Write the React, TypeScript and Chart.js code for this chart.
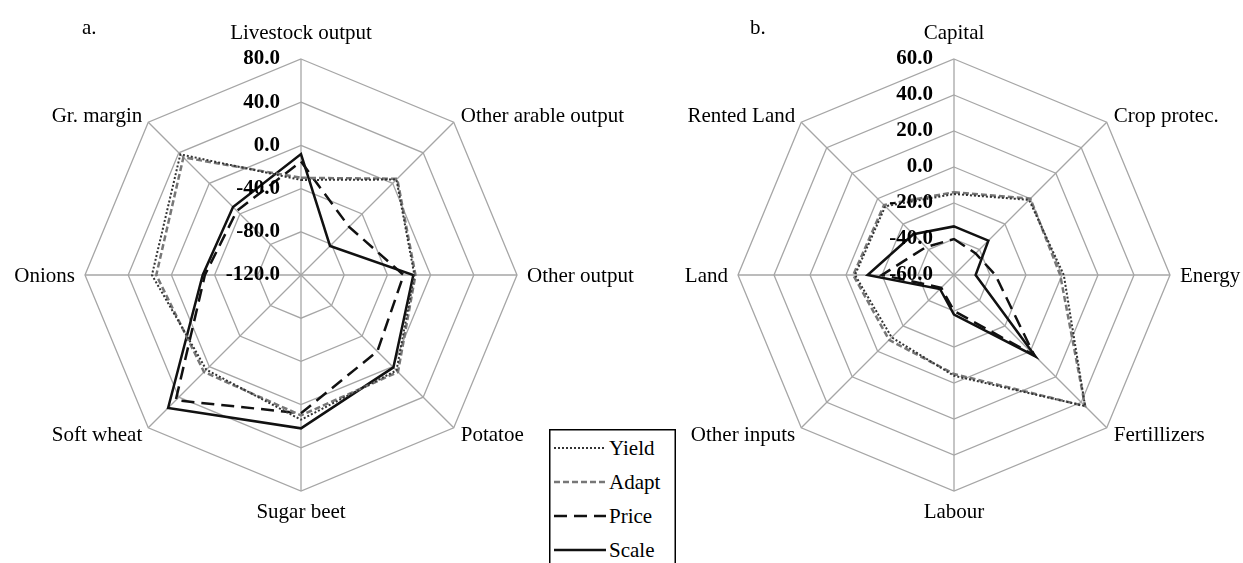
import React, { useEffect, useRef } from 'react';
import { Chart, registerables } from 'chart.js';

Chart.register(...registerables);

// ---------- data ----------
const SERIES_NAMES = ['Yield', 'Adapt', 'Price', 'Scale'];

const CATEGORIES_A = ['Livestock output', 'Other arable output', 'Other output', 'Potatoe', 'Sugar beet', 'Soft wheat', 'Onions', 'Gr. margin'];
const YIELD_A = [-32, 5, -15, 5, 14, 4, 18, 38];
const ADAPT_A = [-30, 6, -14, 7, 10, 7, 14, 34];
const PRICE_A = [-15, -57, -25, -20, 8, 44, -31, -36];
const SCALE_A = [-8, -82, -16, 1, 22, 54, -29, -31];
const TICKS_A = [-120, -80, -40, 0, 40, 80];

const CATEGORIES_B = ['Capital', 'Crop protec.', 'Energy', 'Fertillizers', 'Labour', 'Other inputs', 'Land', 'Rented Land'];
const YIELD_B = [-15, -1, 1, 43, -4, -11, -5, -6];
const ADAPT_B = [-14, 0, -1, 43, -5, -9, -4, -5];
const PRICE_B = [-40, -43, -37, 3, -40, -50, -20, -38];
const SCALE_B = [-33, -33, -48, 4, -38, -49, -12, -28];
const TICKS_B = [-60, -40, -20, 0, 20, 40, 60];

// ---------- styles ----------
const FONT = '"Liberation Serif", "Times New Roman", serif';
const GRID = '#a6a6a6';
const LINE_STYLES = [
  { color: '#333333', width: 2, dash: [2, 2] },
  { color: '#777777', width: 2.5, dash: [6, 3] },
  { color: '#111111', width: 2.5, dash: [13, 7] },
  { color: '#111111', width: 2.5, dash: [] as number[] },
];

const radarText = {
  id: 'radarText',
  afterDatasetsDraw(chart: any) {
    const s: any = chart.scales.r;
    const ctx: CanvasRenderingContext2D = chart.ctx;
    ctx.save();
    ctx.fillStyle = '#000';
    ctx.font = `bold 21px ${FONT}`;
    ctx.textAlign = 'right';
    ctx.textBaseline = 'middle';
    for (const t of s.ticks) {
      const d = s.getDistanceFromCenterForValue(t.value);
      ctx.fillText(Number(t.value).toFixed(1), s.xCenter - 21, s.yCenter - d);
    }
    ctx.font = `21px ${FONT}`;
    ctx.textBaseline = 'alphabetic';
    const labels = chart.data.labels as string[];
    labels.forEach((lab, i) => {
      const p = s.getPointPosition(i, s.drawingArea);
      const deg = Math.round((i * 360) / labels.length) % 360;
      let x = p.x;
      let y = p.y;
      let align: CanvasTextAlign = 'center';
      if (deg === 0) { y -= 20; }
      else if (deg < 90) { align = 'left'; x += 7; }
      else if (deg === 90) { align = 'left'; x += 10; y += 7; }
      else if (deg < 180) { align = 'left'; x += 7; y += 13; }
      else if (deg === 180) { y += 27; }
      else if (deg < 270) { align = 'right'; x -= 6; y += 13; }
      else if (deg === 270) { align = 'right'; x -= 10; y += 7; }
      else { align = 'right'; x -= 6; }
      ctx.textAlign = align;
      ctx.fillText(lab, x, y);
    });
    ctx.restore();
  },
};

type PanelProps = {
  labels: string[];
  series: number[][];
  ticks: number[];
  left: number;
  width: number;
  pad: { left: number; right: number; top: number; bottom: number };
};

function RadarPanel({ labels, series, ticks, left, width, pad }: PanelProps) {
  const ref = useRef<HTMLCanvasElement>(null);
  useEffect(() => {
    if (!ref.current) return;
    const chart = new Chart(ref.current, {
      type: 'radar',
      data: {
        labels,
        datasets: series.map((vals, i) => ({
          label: SERIES_NAMES[i],
          data: vals,
          borderColor: LINE_STYLES[i].color,
          borderWidth: LINE_STYLES[i].width,
          borderDash: LINE_STYLES[i].dash,
          backgroundColor: 'transparent',
          fill: false,
          pointRadius: 0,
          tension: 0,
        })),
      },
      options: {
        animation: false,
        responsive: false,
        maintainAspectRatio: false,
        layout: { padding: pad },
        plugins: { legend: { display: false }, tooltip: { enabled: false } },
        scales: {
          r: {
            min: ticks[0],
            max: ticks[ticks.length - 1],
            afterBuildTicks: (sc: any) => {
              sc.ticks = ticks.map((v) => ({ value: v }));
            },
            ticks: { display: false },
            pointLabels: { display: false },
            grid: { color: GRID, lineWidth: 1.3 },
            angleLines: { color: GRID, lineWidth: 1.3 },
          },
        },
      } as any,
      plugins: [radarText],
    });
    return () => chart.destroy();
  }, []);
  return (
    <canvas
      ref={ref}
      width={width}
      height={563}
      style={{ position: 'absolute', left, top: 0 }}
    />
  );
}

function Legend() {
  const rows = SERIES_NAMES.map((name, i) => {
    const cy = 19 + 34 * i;
    const st = LINE_STYLES[i];
    return (
      <g key={name}>
        <line
          x1={5}
          x2={57}
          y1={cy}
          y2={cy}
          stroke={st.color}
          strokeWidth={st.width}
          strokeDasharray={st.dash.length ? st.dash.join(' ') : undefined}
        />
        <text x={60} y={cy + 7} fontFamily={FONT} fontSize={21} fill="#000">
          {name}
        </text>
      </g>
    );
  });
  return (
    <svg
      width={127}
      height={134}
      style={{ position: 'absolute', left: 549, top: 429, background: '#fff' }}
    >
      <rect x={0.75} y={0.75} width={125.5} height={160} fill="none" stroke="#000" strokeWidth={1.5} />
      {rows}
    </svg>
  );
}

export default function App() {
  return (
    <div
      style={{
        position: 'fixed',
        left: 0,
        top: 0,
        width: 1243,
        height: 563,
        background: '#fff',
        overflow: 'hidden',
      }}
    >
      <RadarPanel
        labels={CATEGORIES_A}
        series={[YIELD_A, ADAPT_A, PRICE_A, SCALE_A]}
        ticks={TICKS_A}
        left={0}
        width={655}
        pad={{ left: 85, right: 138, top: 59, bottom: 72 }}
      />
      <RadarPanel
        labels={CATEGORIES_B}
        series={[YIELD_B, ADAPT_B, PRICE_B, SCALE_B]}
        ticks={TICKS_B}
        left={655}
        width={588}
        pad={{ left: 83, right: 73, top: 59, bottom: 72 }}
      />
      <svg width={1243} height={60} style={{ position: 'absolute', left: 0, top: 0, pointerEvents: 'none' }}>
        <text x={82} y={34} fontFamily={FONT} fontSize={21} fill="#000">a.</text>
        <text x={750} y={34} fontFamily={FONT} fontSize={21} fill="#000">b.</text>
      </svg>
      <Legend />
    </div>
  );
}
